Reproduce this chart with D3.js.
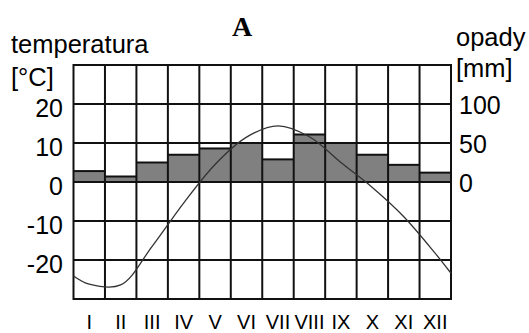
<!DOCTYPE html>
<html>
<head>
<meta charset="utf-8">
<script src="https://cdn.jsdelivr.net/npm/d3@7"></script>
<style>
  body { margin: 0; background: #fff; }
  svg { display: block; }
  text { font-family: "Liberation Sans", Arial, sans-serif; fill: #000; }
</style>
</head>
<body>
<div id="chart"></div>
<script>
// climate chart data
var months = ['I', 'II', 'III', 'IV', 'V', 'VI', 'VII', 'VIII', 'IX', 'X', 'XI', 'XII'];
var precipitation = [14, 7, 25, 35, 43, 50, 29, 61, 50, 35, 22, 12]; // mm
var temperature = [-26.2, -26.4, -16.5, -5.4, 4.5, 11.5, 14.4, 11.6, 5, -1.4, -8.9, -18.3]; // °C
var tempStart = -24.1; // value at left edge of the plot
var tempEnd = -23.4; // value at right edge
var tempTicks = [-20, -10, 0, 10, 20];
var precTicks = [0, 50, 100];

(function() {
  var width = 529;
  var height = 333;
  var left = 73.5, right = 451, top = 65, bottom = 299;

  var svg = d3.select('#chart').append('svg').attr('width', width).attr('height', height);

  var x = d3.scaleBand().domain(months).range([left, right]).padding(0);
  var yT = d3.scaleLinear().domain([-30, 30]).range([bottom, top]);
  var yP = d3.scaleLinear().domain([-150, 150]).range([bottom, top]); // 5 mm per °C

  // bars
  svg.append('g').selectAll('rect')
    .data(precipitation)
    .enter().append('rect')
    .attr('x', function(d, i) { return x(months[i]); })
    .attr('y', function(d) { return yP(d); })
    .attr('width', x.bandwidth())
    .attr('height', function(d) { return yP(0) - yP(d); })
    .attr('fill', '#808080');

  // grid
  var grid = svg.append('g').attr('stroke', '#111').attr('stroke-width', 2).attr('fill', 'none');
  grid.selectAll('.h')
    .data(tempTicks)
    .enter().append('line')
    .attr('x1', left).attr('x2', right)
    .attr('y1', function(d) { return yT(d); })
    .attr('y2', function(d) { return yT(d); });
  grid.selectAll('.v')
    .data(months.slice(1))
    .enter().append('line')
    .attr('x1', function(d) { return x(d); })
    .attr('x2', function(d) { return x(d); })
    .attr('y1', top).attr('y2', bottom);
  // bar tops
  grid.selectAll('.bt')
    .data(precipitation)
    .enter().append('line')
    .attr('x1', function(d, i) { return x(months[i]); })
    .attr('x2', function(d, i) { return x(months[i]) + x.bandwidth(); })
    .attr('y1', function(d) { return yP(d); })
    .attr('y2', function(d) { return yP(d); });
  grid.append('rect')
    .attr('x', left).attr('y', top)
    .attr('width', right - left).attr('height', bottom - top);

  // temperature curve
  var pts = [[left, tempStart]];
  temperature.forEach(function(t, i) {
    pts.push([x(months[i]) + x.bandwidth() / 2, t]);
  });
  pts.push([right, tempEnd]);
  var line = d3.line()
    .x(function(d) { return d[0]; })
    .y(function(d) { return yT(d[1]); })
    .curve(d3.curveCatmullRom.alpha(0.5));
  svg.append('path')
    .datum(pts)
    .attr('d', line)
    .attr('fill', 'none')
    .attr('stroke', '#333')
    .attr('stroke-width', 1.3);

  // axis labels
  svg.selectAll('.tl')
    .data(tempTicks)
    .enter().append('text')
    .attr('x', 63)
    .attr('y', function(d) { return yT(d) + 4; })
    .attr('dy', '0.36em')
    .attr('text-anchor', 'end')
    .style('font-size', '25px')
    .text(function(d) { return d; });
  svg.selectAll('.pl')
    .data(precTicks)
    .enter().append('text')
    .attr('x', 459)
    .attr('y', function(d) { return yP(d) + 1; })
    .attr('dy', '0.36em')
    .style('font-size', '25px')
    .text(function(d) { return d; });
  svg.selectAll('.ml')
    .data(months)
    .enter().append('text')
    .attr('x', function(d) { return x(d) + x.bandwidth() / 2; })
    .attr('y', 329)
    .attr('text-anchor', 'middle')
    .style('font-size', '20px')
    .text(function(d) { return d; });

  svg.append('text').attr('x', 11).attr('y', 53).style('font-size', '25.5px').text('temperatura');
  svg.append('text').attr('x', 11).attr('y', 86).style('font-size', '25.5px').text('[°C]');
  svg.append('text').attr('x', 456).attr('y', 46).style('font-size', '25.5px').text('opady');
  svg.append('text').attr('x', 456).attr('y', 77).style('font-size', '25.5px').text('[mm]');
  svg.append('text').attr('x', 242).attr('y', 35.5).attr('text-anchor', 'middle')
    .style('font-family', '"Liberation Serif", "Times New Roman", serif')
    .style('font-weight', 'bold').style('font-size', '28px').text('A');
}).call(this);
</script>
</body>
</html>
